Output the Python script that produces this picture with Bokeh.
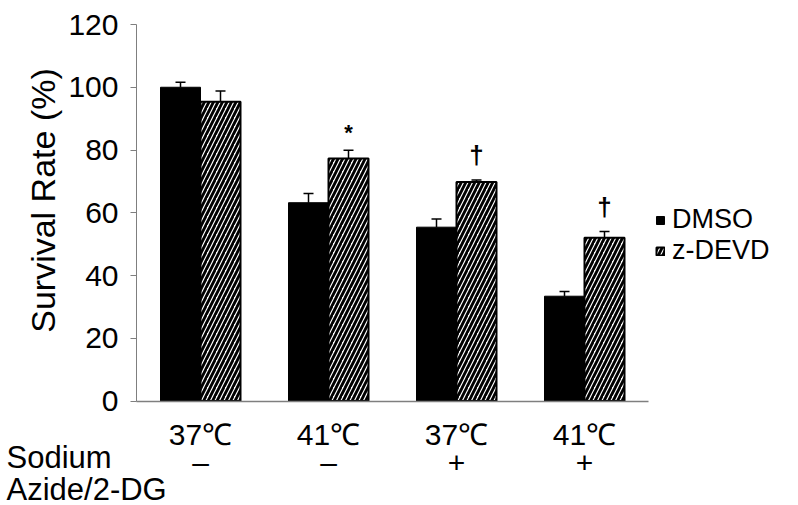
import math
from bokeh.plotting import figure
from bokeh.models import (Range1d, FixedTicker, LinearAxis, Legend, LegendItem,
                          Whisker, TeeHead, ColumnDataSource, Label)
from bokeh.core.properties import value
from bokeh.embed import file_html
from bokeh.resources import INLINE

# ---- data ----
temperature = ["37\u2103", "41\u2103", "37\u2103", "41\u2103"]
azide = ["\u2013", "\u2013", "+", "+"]
dmso = [100.0, 63.2, 55.4, 33.4]
dmso_err = [1.6, 2.9, 2.6, 1.5]
zdevd = [95.4, 77.3, 69.8, 52.0]
zdevd_err = [3.4, 2.6, 0.6, 2.0]
marks = ["", "*", "\u2020", "\u2020"]
y_ticks = [0, 20, 40, 60, 80, 100, 120]
series_names = ["DMSO", "z-DEVD"]
row_label = ["Sodium", "Azide/2-DG"]
y_title = "Survival Rate (%)"

FONT = "Liberation Sans"
n = len(temperature)
centers = [i + 0.5 for i in range(n)]
half = 0.15625
bar_w = 0.3125

# layout geometry (pixels)
W, H = 798, 505
X0, PX_X = 136, 128.0          # x=0 position and pixels per group
Y0, PX_Y = 400.5, 3.1375       # y=0 position and pixels per unit

def sx(px):
    return (px - X0) / PX_X

def sy(py):
    return (Y0 - py) / PX_Y

src_d = ColumnDataSource(dict(x=[c - half for c in centers], top=dmso,
                              up=[v + e for v, e in zip(dmso, dmso_err)]))
src_z = ColumnDataSource(dict(x=[c + half for c in centers], top=zdevd,
                              up=[v + e for v, e in zip(zdevd, zdevd_err)]))

p = figure(width=W, height=H,
           x_range=Range1d(sx(0), sx(W)), y_range=Range1d(sy(H), sy(0)),
           output_backend="svg", toolbar_location=None,
           min_border_left=0, min_border_right=0, min_border_top=0,
           min_border_bottom=0)
p.outline_line_color = None
p.grid.visible = False

r1 = p.vbar(x="x", top="top", width=bar_w, source=src_d, fill_color="black",
            line_color="black", line_width=1)
r2 = p.vbar(x="x", top="top", width=bar_w, source=src_z, fill_color="white",
            line_color="black", line_width=2, hatch_pattern="/",
            hatch_color="black", hatch_weight=2.8, hatch_scale=9)

for s in (src_d, src_z):
    w = Whisker(base="x", lower="top", upper="up", source=s, dimension="height",
                line_color="black", line_width=1.5, lower_head=None,
                upper_head=TeeHead(size=10, line_color="black", line_width=1.5))
    p.add_layout(w)

# significance marks
ast_src = ColumnDataSource(dict(
    x=[c + half for c, m in zip(centers, marks) if m == "*"],
    y=[v + e for v, e, m in zip(zdevd, zdevd_err, marks) if m == "*"],
    t=[m for m in marks if m == "*"]))
dag_src = ColumnDataSource(dict(
    x=[c + half for c, m in zip(centers, marks) if m == "\u2020"],
    y=[v + e for v, e, m in zip(zdevd, zdevd_err, marks) if m == "\u2020"],
    t=[m for m in marks if m == "\u2020"]))
p.text(x="x", y="y", text="t", source=ast_src, text_align="center",
       text_baseline="middle", y_offset=-18, text_font=value(FONT),
       text_font_size="22px", text_color="black", text_font_style="bold")
p.text(x="x", y="y", text="t", source=dag_src, text_align="center",
       text_baseline="middle", y_offset=-25, text_font=value(FONT),
       text_font_size="26px", text_color="black", text_font_style="bold")

# y axis
ya = p.yaxis[0]
ya.fixed_location = 0
ya.bounds = (0, 120)
ya.ticker = FixedTicker(ticks=y_ticks)
ya.axis_line_color = "#7f7f7f"
ya.major_tick_line_color = "#7f7f7f"
ya.major_tick_out = 6
ya.major_tick_in = 0
ya.minor_tick_line_color = None
ya.major_label_standoff = 12
ya.major_label_text_font = FONT
ya.major_label_text_font_size = "30px"
ya.major_label_text_color = "black"

p.add_layout(Label(x=sx(42), y=sy(200), text=y_title, angle=math.pi / 2,
                   text_font=FONT, text_font_size="34px", text_color="black",
                   text_align="center", text_baseline="middle"))

# x axis: temperatures
xa = p.xaxis[0]
xa.fixed_location = 0
xa.bounds = (0, n)
xa.ticker = FixedTicker(ticks=centers)
xa.major_label_overrides = {c: t for c, t in zip(centers, temperature)}
xa.axis_line_color = "#7f7f7f"
xa.axis_line_width = 1.5
xa.major_tick_line_color = None
xa.minor_tick_line_color = None
xa.major_tick_out = 0
xa.major_label_standoff = 17
xa.major_label_text_font = FONT
xa.major_label_text_font_size = "30px"
xa.major_label_text_color = "black"

# second row: sodium azide / 2-DG
xa2 = LinearAxis(ticker=FixedTicker(ticks=centers), fixed_location=0,
                 bounds=(0, n),
                 major_label_overrides={c: t for c, t in zip(centers, azide)})
xa2.axis_line_color = None
xa2.major_tick_line_color = None
xa2.minor_tick_line_color = None
xa2.major_tick_out = 0
xa2.major_label_standoff = 45
xa2.major_label_text_font = FONT
xa2.major_label_text_font_size = "30px"
xa2.major_label_text_color = "black"
p.add_layout(xa2, "below")

for txt, py in zip(row_label, (457, 489)):
    p.add_layout(Label(x=sx(6), y=sy(py), text=txt,
                       text_font=FONT, text_font_size="31px", text_color="black",
                       text_baseline="alphabetic", text_align="left"))

legend = Legend(items=[LegendItem(label=series_names[0], renderers=[r1]),
                       LegendItem(label=series_names[1], renderers=[r2])],
                location=(655, 239), glyph_width=10, glyph_height=10,
                label_standoff=7, padding=0, spacing=-2, margin=0,
                label_text_font=FONT, label_text_font_size="27px",
                label_text_color="black",
                border_line_color=None, background_fill_alpha=0)
p.add_layout(legend, "center")

open("out.html", "w").write(file_html(p, INLINE))
